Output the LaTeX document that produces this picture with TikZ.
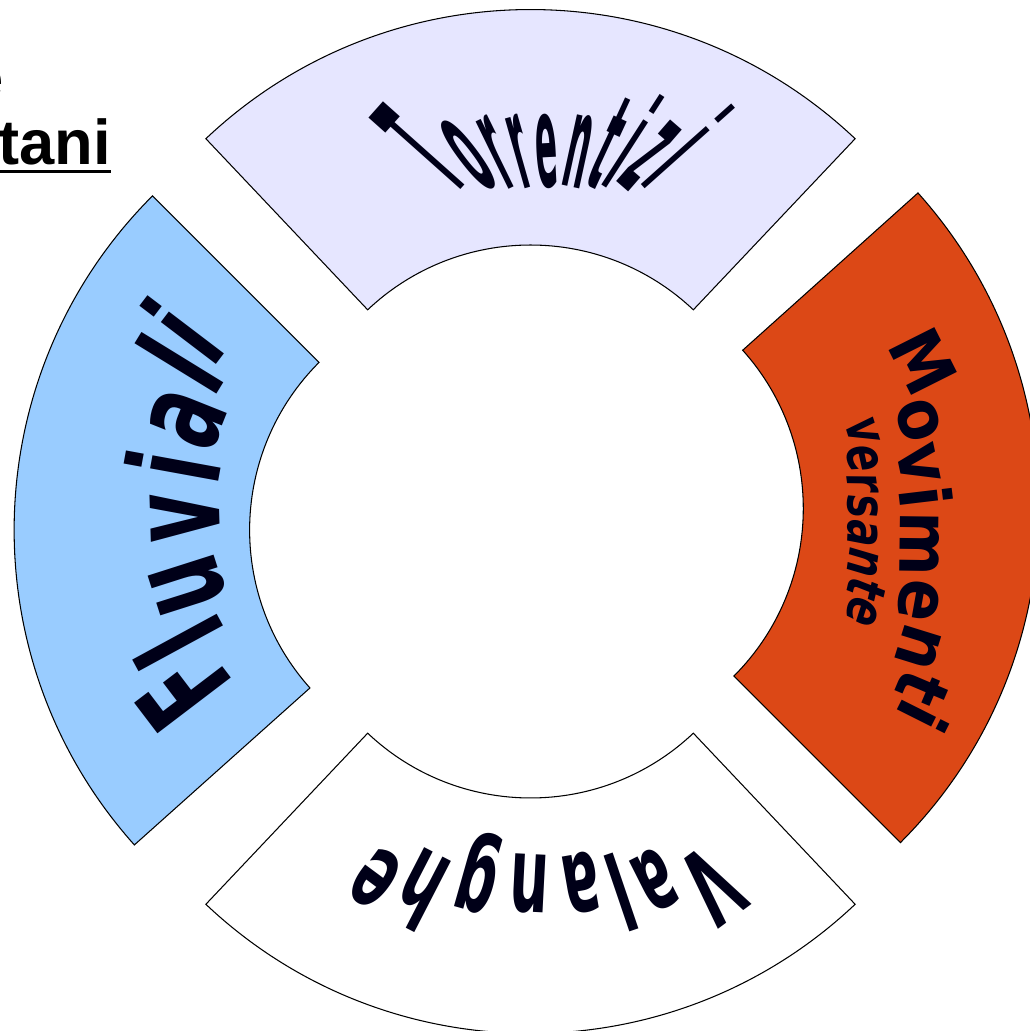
\documentclass[tikz,border=0pt]{standalone}
\usepackage{fontspec}
\setmainfont{DejaVu Sans}
\newfontfamily\titlefont{Liberation Sans}
\newfontfamily\torrfont[FakeStretch=0.25]{DejaVu Sans}
\newfontfamily\fluvfont[FakeStretch=0.6]{DejaVu Sans}
\newfontfamily\valfont[FakeStretch=0.52]{DejaVu Sans}
\newfontfamily\movfont[FakeStretch=0.88]{DejaVu Sans}
\newfontfamily\versfont[FakeStretch=0.74]{DejaVu Sans}
\definecolor{lavender}{HTML}{E6E6FF}
\definecolor{skyblue}{HTML}{99CCFF}
\definecolor{rust}{HTML}{DC4816}
\definecolor{ink}{HTML}{000018}
\tikzset{sector/.style={draw=black,line width=0.6pt},
  fanchar/.style={anchor=base,inner sep=0pt,text=ink,transform shape}}

\begin{document}
\begin{tikzpicture}[x=0.02cm,y=0.02cm]
\useasboundingbox (0,0) rectangle (1030,1031);
\clip (0,0) rectangle (1030,1031);
% apexes of the four ring parts
\coordinate (topc) at (530.5,549);
\coordinate (leftc) at (486.6,501);
\coordinate (botc) at (530.5,470);
\coordinate (rightc) at (566.3,522.5);
\draw[sector,fill=lavender,shift={(topc)}] (46.6:472.5) arc[start angle=46.6,end angle=133.4,radius=472.5] -- (133.4:237) arc[start angle=133.4,end angle=46.6,radius=237] -- cycle;
\draw[sector,fill=skyblue,shift={(leftc)}] (135:472.5) arc[start angle=135,end angle=221.8,radius=472.5] -- (221.8:237) arc[start angle=221.8,end angle=135,radius=237] -- cycle;
\draw[sector,fill=white,shift={(botc)}] (226.6:472.5) arc[start angle=226.6,end angle=313.4,radius=472.5] -- (313.4:237) arc[start angle=313.4,end angle=226.6,radius=237] -- cycle;
\draw[sector,fill=rust,shift={(rightc)}] (-45:472.5) arc[start angle=-45,end angle=41.9,radius=472.5] -- (41.9:237) arc[start angle=41.9,end angle=-45,radius=237] -- cycle;
% fanned labels: feet on a line, letters lean towards a centre
\coordinate (torrc) at (553,764);
\coordinate (fluvc) at (420,520);
\coordinate (valc) at (541,376);
\coordinate (movc) at (570,492);
\coordinate (versc) at (578,509.5);
\begin{scope}[shift={(torrc)}]
\foreach \ch/\c [count=\i] in {T/0.341,o/1.026,r/1.616,r/2.109,e/2.694,n/3.389,t/3.984,i/4.395,z/4.858,i/5.321}{
  \pgfmathsetmacro\xo{80*sinh(31*(\c-2.831)/80)}
  \pgfmathsetmacro\ang{atan(\xo/80)}
  \pgfmathsetmacro\ys{sqrt(1/cos(\ang))}
  \node[fanchar,font=\torrfont\bfseries\fontsize{74}{76}\selectfont,rotate=-\ang,yscale=\ys] (torr\i) at (\xo,80) {\ch};
}
\end{scope}
\begin{scope}[shift={(fluvc)},rotate=90]
\foreach \ch/\c [count=\i] in {F/0.342,l/0.855,u/1.382,v/2.064,i/2.562,a/3.071,l/3.580,i/3.923}{
  \pgfmathsetmacro\xo{85*(\c-2.133)}
  \pgfmathsetmacro\ang{atan(\xo/200)}
  \node[fanchar,font=\fluvfont\bfseries\fontsize{72}{74}\selectfont,rotate=-\ang] (fluv\i) at (\xo,200) {\ch};
}
\end{scope}
\begin{scope}[shift={(valc)},rotate=180]
\foreach \ch/\c [count=\i] in {V/0.387,a/1.112,l/1.621,a/2.130,n/2.823,g/3.537,h/4.251,e/4.945}{
  \pgfmathsetmacro\xo{65*(\c-2.666)}
  \pgfmathsetmacro\ang{atan(\xo/200)}
  \node[fanchar,font=\valfont\bfseries\fontsize{60}{62}\selectfont,rotate=-\ang] (val\i) at (\xo,200) {\ch};
}
\end{scope}
\begin{scope}[shift={(movc)},rotate=-90]
\foreach \ch/\c [count=\i] in {M/0.498,o/1.339,v/2.008,i/2.506,m/3.198,e/4.058,n/4.753,t/5.348,i/5.759}{
  \pgfmathsetmacro\xo{63*(\c-3.128)}
  \pgfmathsetmacro\ang{atan(\xo/330)}
  \node[fanchar,font=\movfont\bfseries\fontsize{40}{42}\selectfont,rotate=-\ang] (mov\i) at (\xo,330) {\ch};
}
\end{scope}
\begin{scope}[shift={(versc)},rotate=-90]
\foreach \ch/\c [count=\i] in {v/0.326,e/0.991,r/1.577,s/2.121,a/2.756,n/3.449,t/4.044,e/4.622}{
  \pgfmathsetmacro\xo{40*(\c-2.474)}
  \pgfmathsetmacro\ang{atan(\xo/270)}
  \node[fanchar,font=\versfont\bfseries\itshape\fontsize{30.6}{32}\selectfont,rotate=-\ang] (vers\i) at (\xo,270) {\ch};
}
\end{scope}
% title remains
\node (titleA) [anchor=base east,inner sep=0pt,font=\titlefont\bfseries\fontsize{36}{40}\selectfont] at (4,931) {e};
\node (titleB) [anchor=base east,inner sep=0pt,font=\titlefont\bfseries\fontsize{36}{40}\selectfont] at (111,866) {tani};
\draw[line width=1.7pt] ([yshift=-3.7pt]titleB.base west) -- ([yshift=-3.7pt]titleB.base east);
\end{tikzpicture}
\end{document}
